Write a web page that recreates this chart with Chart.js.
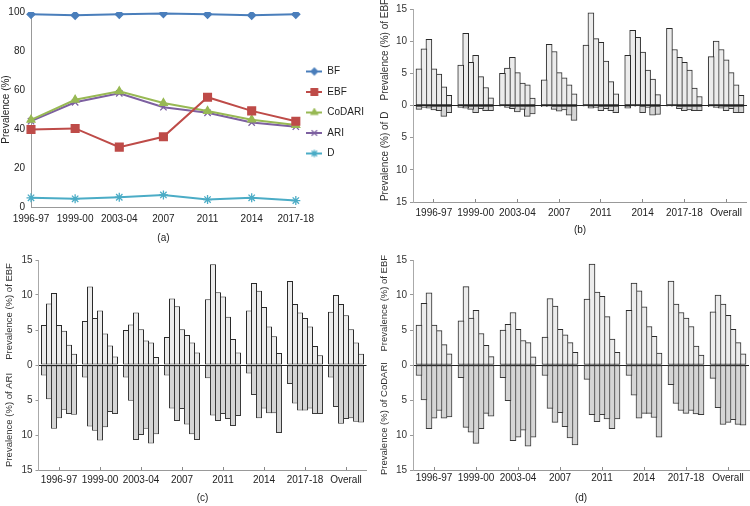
<!DOCTYPE html>
<html><head><meta charset="utf-8">
<script src="https://cdn.jsdelivr.net/npm/chart.js@4.4.1/dist/chart.umd.min.js"></script>
<style>
html,body{margin:0;padding:0;background:#fff;width:750px;height:506px;overflow:hidden}
canvas{position:absolute}
</style></head><body>
<canvas id="ca" width="375" height="250" style="left:0;top:0"></canvas>
<canvas id="cb" width="375" height="250" style="left:375px;top:0"></canvas>
<canvas id="cc" width="375" height="256" style="left:0;top:250px"></canvas>
<canvas id="cd" width="375" height="256" style="left:375px;top:250px"></canvas>
<script>
// ---- Panel (a) data ----
const surveyYears = ['1996-97', '1999-00', '2003-04', '2007', '2011', '2014', '2017-18'];
const bfValues     = [98.8, 98.3, 98.8, 99.2, 98.8, 98.3, 98.8];
const ebfValues    = [39.7, 40.3, 30.7, 36.0, 56.3, 49.3, 44.0];
const codariValues = [44.7, 55.0, 59.3, 53.3, 49.2, 44.8, 42.0];
const ariValues    = [44.0, 53.7, 58.3, 51.2, 48.3, 43.3, 41.2];
const dValues      = [4.7, 4.2, 5.0, 6.2, 3.8, 4.7, 3.3];

// ---- Panels (b)-(d) data: 7 bars per group ----
const groupLabels = ['1996-97', '1999-00', '2003-04', '2007', '2011', '2014', '2017-18', 'Overall'];
const ebfByGroup = [
  [5.7, 8.8, 10.3, 5.7, 4.9, 2.9, 1.6],
  [6.3, 11.2, 6.7, 7.8, 4.5, 2.8, 1.2],
  [5.0, 5.8, 7.5, 5.1, 3.5, 3.2, 1.15],
  [4.0, 9.5, 8.4, 5.1, 4.3, 3.2, 1.8],
  [9.4, 14.4, 10.4, 9.8, 6.9, 3.7, 1.8],
  [7.8, 11.7, 10.6, 8.3, 5.5, 4.1, 1.7],
  [12.0, 8.7, 7.5, 6.7, 5.5, 2.7, 1.4],
  [7.6, 10.0, 8.7, 7.1, 5.1, 3.2, 1.6]
];
const dByGroup = [
  [0.6, 0.3, 0.4, 0.7, 0.8, 1.7, 1.1],
  [0.3, 0.4, 0.6, 1.1, 0.5, 0.8, 0.8],
  [0.1, 0.3, 0.5, 1.0, 0.6, 1.7, 1.3],
  [0.2, 0.2, 0.6, 0.9, 0.7, 1.5, 2.3],
  [0.1, 0.4, 0.3, 0.8, 0.5, 0.8, 1.1],
  [0.4, 0.1, 0.1, 1.1, 0.3, 1.5, 1.4],
  [0.1, 0.1, 0.5, 0.8, 0.7, 0.8, 0.8],
  [0.2, 0.3, 0.4, 0.8, 0.5, 1.1, 1.1]
];
const ariByGroup = [
  [1.5, 4.9, 9.1, 7.6, 6.4, 7.0, 7.1],
  [1.8, 8.8, 9.4, 10.8, 8.9, 6.7, 7.0],
  [1.8, 5.1, 10.7, 10.0, 9.1, 11.2, 9.9],
  [1.5, 6.2, 8.0, 6.3, 8.5, 9.9, 10.7],
  [1.9, 7.2, 8.0, 7.0, 7.7, 8.7, 7.3],
  [1.2, 4.3, 7.6, 6.2, 6.9, 6.9, 9.7],
  [2.7, 5.5, 6.5, 6.5, 6.2, 7.0, 7.0],
  [1.8, 6.0, 8.4, 7.7, 7.6, 8.1, 8.2]
];
const codariByGroup = [
  [1.5, 5.0, 9.1, 7.6, 6.5, 7.6, 7.4],
  [1.8, 8.9, 9.6, 11.2, 9.1, 6.9, 7.3],
  [1.8, 5.1, 10.8, 10.3, 9.3, 11.6, 10.3],
  [1.5, 6.2, 8.2, 6.8, 8.8, 10.4, 11.4],
  [2.05, 7.1, 8.1, 7.1, 7.7, 9.1, 7.7],
  [1.5, 4.3, 7.6, 6.9, 6.9, 7.5, 10.3],
  [2.8, 5.5, 6.5, 6.9, 6.5, 7.0, 7.1],
  [1.9, 6.1, 8.5, 8.2, 7.8, 8.5, 8.6]
];

const FONT = '"Liberation Sans", Arial, sans-serif';
Chart.defaults.font.family = FONT;
Chart.defaults.font.size = 10;
Chart.defaults.color = '#222';

// ---------- Panel (a) ----------
const lineSeries = [
  {label: 'BF', values: bfValues, color: '#4a7ebb', style: 'rectRot', r: 4},
  {label: 'EBF', values: ebfValues, color: '#be4b48', style: 'rect', r: 5.5},
  {label: 'CoDARI', values: codariValues, color: '#98b954', style: 'triangle', r: 4.5},
  {label: 'ARI', values: ariValues, color: '#7d60a0', style: 'crossRot', r: 4.5},
  {label: 'D', values: dValues, color: '#4bacc6', style: 'star', r: 4.5}
];
function legendIcon(s) {
  const c = document.createElement('canvas');
  c.width = 16; c.height = 10;
  const g = c.getContext('2d');
  g.strokeStyle = s.color; g.lineWidth = 2;
  g.beginPath(); g.moveTo(0, 5); g.lineTo(16, 5); g.stroke();
  g.fillStyle = s.color; g.strokeStyle = s.color; g.lineWidth = 1.2;
  Chart.helpers.drawPoint(g, {pointStyle: s.style, radius: s.r * 0.85, borderWidth: 1.2, rotation: 0}, 8, 5);
  return c;
}
new Chart(document.getElementById('ca'), {
  type: 'line',
  data: {
    labels: surveyYears,
    datasets: lineSeries.map(s => ({
      label: s.label, data: s.values, borderColor: s.color, backgroundColor: s.color,
      borderWidth: 2, pointStyle: s.style, pointRadius: s.r, pointBorderWidth: 1.3,
      pointBackgroundColor: s.color, pointBorderColor: s.color, tension: 0
    }))
  },
  options: {
    animation: false, responsive: false, devicePixelRatio: 1,
    layout: {padding: {top: 7, right: 1, left: 0, bottom: 0}},
    plugins: {
      tooltip: {enabled: false},
      legend: {
        position: 'right', align: 'start',
        title: {display: true, text: '', font: {size: 10}, padding: {top: 0, bottom: 37}},
        labels: {
          usePointStyle: true, pointStyleWidth: 16, padding: 10.5, font: {size: 10}, color: '#222',
          generateLabels: chart => lineSeries.map((s, i) => ({
            text: s.label, pointStyle: legendIcon(s), fillStyle: s.color, strokeStyle: s.color,
            lineWidth: 0, hidden: false, datasetIndex: i, fontColor: '#222'
          }))
        }
      }
    },
    scales: {
      x: {
        offset: false,
        grid: {display: false, drawTicks: false},
        border: {display: true, color: '#999'},
        ticks: {padding: 6, maxRotation: 0, autoSkip: false, color: '#222'},
        title: {display: true, text: '(a)', padding: {top: 0, bottom: 6}, color: '#222'},
        afterFit: s => { s.height = 43; }
      },
      y: {
        min: 0, max: 100,
        grid: {display: false, drawTicks: false},
        border: {display: true, color: '#999'},
        ticks: {stepSize: 20, padding: 6, color: '#222'},
        title: {display: true, text: 'Prevalence (%)', padding: {top: 0, bottom: 0}, color: '#222'},
        afterFit: s => { s.width = 31; }
      }
    }
  }
});

// ---------- Panels (b)-(d) ----------
const BAR_W = 5;
function barPanel(id, lowerByGroup, yTitle, cfg) {
  const catPct = (BAR_W * 7) / cfg.catW;
  const barPct = (BAR_W + 1) / BAR_W;   // 1px overlap so neighbouring bars share one outline
  const datasets = [];
  for (let i = 0; i < 7; i++) {
    datasets.push({
      data: ebfByGroup.map(g => g[i]), stack: 's' + i,
      backgroundColor: '#ececec', borderColor: '#2a2a2a', borderWidth: 1, borderSkipped: false,
      categoryPercentage: catPct, barPercentage: barPct
    });
  }
  for (let i = 0; i < 7; i++) {
    datasets.push({
      data: lowerByGroup.map(g => -g[i]), stack: 's' + i,
      backgroundColor: '#d5d5d5', borderColor: '#3a3a3a', borderWidth: 1, borderSkipped: false,
      categoryPercentage: catPct, barPercentage: barPct
    });
  }
  new Chart(document.getElementById(id), {
    type: 'bar',
    data: {labels: groupLabels, datasets},
    options: {
      animation: false, responsive: false, devicePixelRatio: 1,
      layout: {padding: {top: cfg.top, right: cfg.right, left: 0, bottom: 0}},
      plugins: {legend: {display: false}, tooltip: {enabled: false}},
      scales: {
        x: {
          stacked: true,
          grid: {drawOnChartArea: false, offset: false, tickLength: -3, tickColor: '#888'},
          border: {display: true, color: '#999'},
          ticks: {padding: cfg.xpad, maxRotation: 0, autoSkip: false, color: '#222'},
          title: {display: true, text: cfg.letter, padding: {top: 0, bottom: cfg.titleBottom}, color: '#222'},
          afterFit: s => { s.height = cfg.xh; }
        },
        y: {
          stacked: true, min: -15, max: 15,
          grid: {
            drawOnChartArea: true, tickLength: 3, tickColor: '#999',
            color: c => (c.tick && c.tick.value === 0) ? '#222' : 'rgba(0,0,0,0)'
          },
          border: {display: true, color: '#aaa'},
          ticks: {stepSize: 5, padding: 3, color: '#333', callback: v => Math.abs(v)},
          title: {display: true, text: yTitle, padding: {top: 4, bottom: 0}, color: '#333', font: {size: cfg.tfs}},
          afterFit: s => { s.width = cfg.yw; }
        }
      }
    }
  });
}
barPanel('cb', dByGroup, '    Prevalence (%) of D    Prevalence (%) of EBF',
  {top: 9, right: 1, xh: 48, xpad: 8, titleBottom: 14, letter: '(b)', yw: 38, catW: 42, tfs: 10});
barPanel('cc', ariByGroup, 'Prevalence (%) of ARI     Prevalence (%) of EBF',
  {top: 10, right: 8.5, xh: 36, xpad: 7, titleBottom: 2, letter: '(c)', yw: 38.5, catW: 41, tfs: 9.5});
barPanel('cd', codariByGroup, 'Prevalence (%) of CoDARI    Prevalence (%) of EBF',
  {top: 10, right: 1, xh: 36, xpad: 5, titleBottom: 2, letter: '(d)', yw: 38, catW: 42, tfs: 9.5});
</script>
</body></html>
